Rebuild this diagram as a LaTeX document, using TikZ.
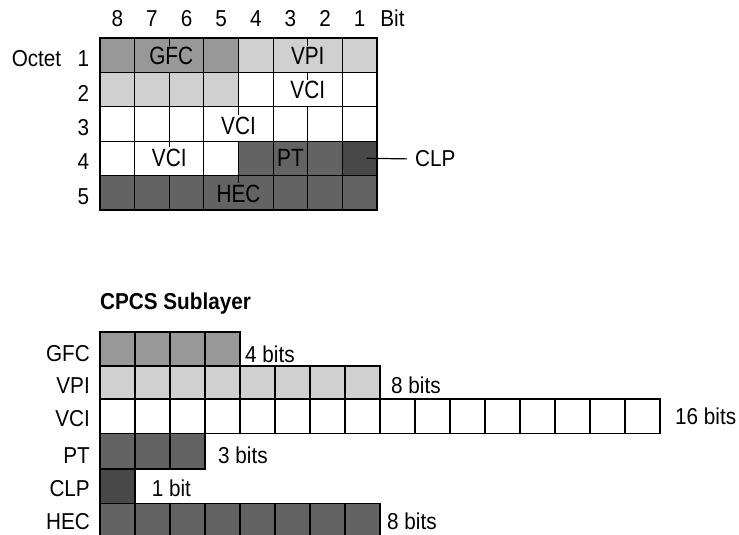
\documentclass[tikz,border=0pt]{standalone}
\usepackage{fontspec}
\setmainfont[FakeStretch=0.9]{Liberation Sans}
\newfontfamily\cellfont[FakeStretch=0.83]{Liberation Sans}
\definecolor{gfcgray}{HTML}{989898}
\definecolor{vpigray}{HTML}{D0D0D0}
\definecolor{darkgray2}{HTML}{636363}
\definecolor{clpgray}{HTML}{484848}
\begin{document}
\begin{tikzpicture}[x=1pt,y=-1pt,
  font=\fontsize{23}{23}\selectfont,
  grid/.style={line width=1.1pt, black},
  lbl/.style={inner sep=0pt, anchor=base},
  cell/.style={inner sep=0pt, anchor=base, font=\cellfont\fontsize{25}{25}\selectfont},
  lbll/.style={inner sep=0pt, anchor=base east},
  lblr/.style={inner sep=0pt, anchor=base west}]
\useasboundingbox (0,0) rectangle (739,535);
\def\cw{34.625}
\def\rh{34.4}
% ---------- top grid fills ----------
\fill[gfcgray] (100,38) rectangle (100+4*\cw,38+\rh);
\fill[vpigray] (100+4*\cw,38) rectangle (377,38+\rh);
\fill[vpigray] (100,38+\rh) rectangle (100+4*\cw,38+2*\rh);
\fill[darkgray2] (100+4*\cw,38+3*\rh) rectangle (100+7*\cw,38+4*\rh);
\fill[clpgray] (100+7*\cw,38+3*\rh) rectangle (377,38+4*\rh);
\fill[darkgray2] (100,38+4*\rh) rectangle (377,210);
% vertical lines
\foreach \i in {1,...,7} \draw[grid] (100+\i*\cw,38) -- (100+\i*\cw,210);
% label backgrounds hiding lines
\fill[gfcgray] (100+2*\cw-23.5,46) rectangle (100+2*\cw+23.5,38+\rh-0.7);
\fill[vpigray] (100+6*\cw-18,46) rectangle (100+6*\cw+18,38+\rh-0.7);
\fill[white] (100+6*\cw-18.5,80) rectangle (100+6*\cw+18.5,38+2*\rh-0.7);
\fill[white] (100+4*\cw-18.5,115) rectangle (100+4*\cw+18.5,38+3*\rh-0.7);
\fill[white] (100+2*\cw-18.5,147) rectangle (100+2*\cw+18.5,38+4*\rh-0.7);
\fill[darkgray2] (100+4*\cw-23.5,183) rectangle (100+4*\cw+23.5,209.3);
% horizontal lines and frame
\foreach \j in {1,...,4} \draw[grid] (100,38+\j*\rh) -- (377,38+\j*\rh);
\draw[grid] (100,38) rectangle (377,210);
% cell labels
\node[cell] (tgfc) at (100+2*\cw+2,65) {GFC};
\node[cell] (tvpi) at (100+6*\cw,65) {VPI};
\node[cell] (tvci2) at (100+6*\cw,99) {VCI};
\node[cell] (tvci3) at (100+4*\cw,134) {VCI};
\node[cell] (tvci4) at (100+2*\cw,166) {VCI};
\node[cell] (tpt) at (100+5.5*\cw,166) {PT};
\node[cell] (thec) at (100+4*\cw,202) {HEC};
% column numbers
\foreach \n [count=\k from 0] in {8,7,6,5,4,3,2,1}
  \node[lbl] (col\n) at (100+\cw*\k+0.5*\cw,26.5) {\n};
\node[lbl] (bit) at (392.5,26.5) {Bit};
% row numbers
\node[lbl] (octet) at (36.5,38+0.5*\rh+11.5) {Octet};
\foreach \r in {1,...,5}
  \node[lbl] (row\r) at (83.3,38+\r*\rh-0.5*\rh+11.5) {\r};
% CLP pointer
\coordinate (clpdot) at (366.7,158.3);
\node[lblr] (clplab) at (415,166.8) {CLP};
\draw[line width=1.2pt] (clpdot) -- ([xshift=-8pt]clplab.west);
% ---------- CPCS Sublayer ----------
\node[lblr] (cpcs) at (100,309.5) {\bfseries CPCS Sublayer};
% bars
\foreach \i in {0,...,3} \draw[grid, fill=gfcgray] (100+35*\i,332) rectangle (135+35*\i,366);
\foreach \i in {0,...,7} \draw[grid, fill=vpigray] (100+35*\i,366) rectangle (135+35*\i,399);
\foreach \i in {0,...,15} \draw[grid, fill=white] (100+35*\i,399) rectangle (135+35*\i,433.5);
\foreach \i in {0,...,2} \draw[grid, fill=darkgray2] (100+35*\i,433.5) rectangle (135+35*\i,469);
\draw[grid, fill=clpgray] (100,469) rectangle (135,503.5);
\foreach \i in {0,...,7} \draw[grid, fill=darkgray2] (100+35*\i,503.5) rectangle (135+35*\i,540);
% left labels
\node[lbll] (lgfc) at (90,361.3) {GFC};
\node[lbll] (lvpi) at (90,393.7) {VPI};
\node[lbll] (lvci) at (90,426) {VCI};
\node[lbll] (lpt) at (90,463) {PT};
\node[lbll] (lclp) at (90,496.8) {CLP};
\node[lbll] (lhec) at (90,529) {HEC};
% right labels
\node[lblr] (rgfc) at (245,362.3) {4 bits};
\node[lblr] (rvpi) at (391,393.3) {8 bits};
\node[lblr] (rvci) at (675,424.3) {16 bits};
\node[lblr] (rpt) at (218,463.3) {3 bits};
\node[lblr] (rclp) at (151.7,496.5) {1 bit};
\node[lblr] (rhec) at (387,529.3) {8 bits};
\end{tikzpicture}
\end{document}
